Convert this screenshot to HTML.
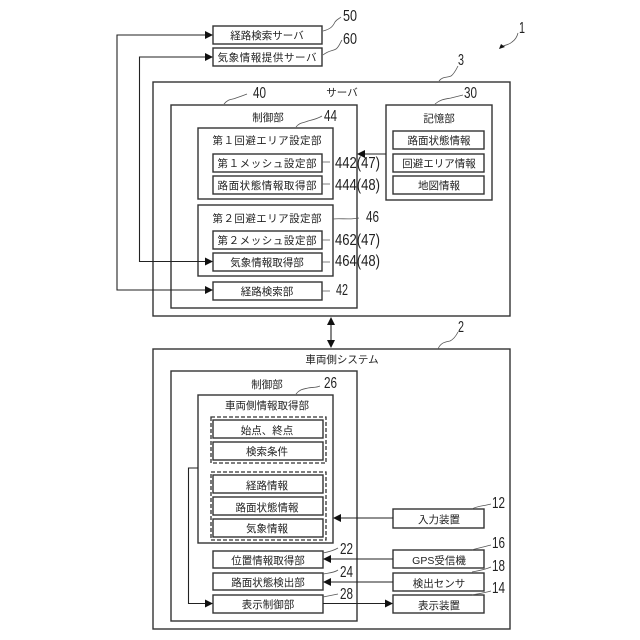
<!DOCTYPE html>
<html><head><meta charset="utf-8"><style>
html,body{margin:0;padding:0;background:#fff;width:640px;height:640px;overflow:hidden}
svg{display:block}
text{font-family:"Liberation Sans","Noto Sans CJK JP",sans-serif;fill:#222}
.j{font-size:10.5px;text-anchor:middle}
.n{font-size:16px;text-anchor:start}
.b{fill:none;stroke:#333;stroke-width:1.4}
.d{fill:none;stroke:#333;stroke-width:1.3;stroke-dasharray:4 2}
.l{fill:none;stroke:#222;stroke-width:1.1}
.c{fill:none;stroke:#555;stroke-width:.8}
.a{fill:#111}
</style></head><body>
<svg width="640" height="640" viewBox="0 0 640 640" xmlns="http://www.w3.org/2000/svg">
<!-- boxes -->
<rect class="b" x="213" y="26" width="109" height="18"/>
<rect class="b" x="213" y="48" width="109" height="18"/>
<rect class="b" x="153" y="82" width="357" height="234"/>
<rect class="b" x="171" y="105" width="186" height="203"/>
<rect class="b" x="198" y="128" width="135" height="71"/>
<rect class="b" x="213" y="154" width="109" height="18"/>
<rect class="b" x="213" y="176" width="109" height="18"/>
<rect class="b" x="198" y="205" width="135" height="71"/>
<rect class="b" x="213" y="231" width="109" height="18"/>
<rect class="b" x="213" y="253" width="109" height="18"/>
<rect class="b" x="213" y="282" width="109" height="18"/>
<rect class="b" x="386" y="105" width="106" height="95"/>
<rect class="b" x="393" y="131" width="91" height="18"/>
<rect class="b" x="393" y="154" width="91" height="18"/>
<rect class="b" x="393" y="176" width="91" height="18"/>
<rect class="b" x="153" y="349" width="357" height="280"/>
<rect class="b" x="171" y="371" width="186" height="250"/>
<rect class="b" x="198" y="395" width="135" height="148"/>
<rect class="d" x="211" y="417" width="115" height="46"/>
<rect class="b" x="213" y="420" width="110" height="18"/>
<rect class="b" x="213" y="442" width="110" height="18"/>
<rect class="d" x="211" y="472" width="115" height="68"/>
<rect class="b" x="213" y="475" width="110" height="18"/>
<rect class="b" x="213" y="497" width="110" height="18"/>
<rect class="b" x="213" y="519" width="110" height="18"/>
<rect class="b" x="213" y="551" width="110" height="17"/>
<rect class="b" x="213" y="573" width="110" height="17"/>
<rect class="b" x="213" y="595" width="110" height="18"/>
<rect class="b" x="393" y="509" width="91" height="19"/>
<rect class="b" x="393" y="550" width="91" height="18"/>
<rect class="b" x="393" y="573" width="91" height="18"/>
<rect class="b" x="393" y="595" width="91" height="18"/>
<!-- connectors -->
<path class="l" d="M205 35H117V290H205"/>
<path class="a" d="M213 35L205 31V39ZM213 290L205 286V294Z"/>
<path class="l" d="M205 57H139.500V261.500H205"/>
<path class="a" d="M213 57L205 53V61ZM213 261.500L205 257.500V265.500Z"/>
<path class="l" d="M386 154H365"/><path class="a" d="M357 154L365 150V158Z"/>
<path class="l" d="M331 324V341"/><path class="a" d="M331 317L327 325H335ZM331 348L327 340H335Z"/>
<path class="l" d="M393 518H341"/><path class="a" d="M333 518L341 514V522Z"/>
<path class="l" d="M393 559H331"/><path class="a" d="M323 559L331 555V563Z"/>
<path class="l" d="M393 582H331"/><path class="a" d="M323 582L331 578V586Z"/>
<path class="l" d="M323 603.500H385"/><path class="a" d="M393 603.500L385 599.500V607.500Z"/>
<path class="l" d="M198 468H188.500V603.500H205"/><path class="a" d="M213 603.500L205 599.500V607.500Z"/>
<!-- leader lines -->
<path class="c" d="M323 31C331 29 333 26 335 22C337 19 339 19 341 17"/>
<path class="c" d="M323 55C329 50 333 51 336 49C339 47 340 43 342 40"/>
<path class="c" d="M224 104C229 98 232 100 236 98C239 97 242 96 247 94"/>
<path class="c" d="M296 127C300 122 304 123 308 121C312 120 317 119 322 116"/>
<path class="c" d="M333 219C340 218 350 220 359 218"/>
<path class="c" d="M322 162H330M322 184H330M322 240H330M322 262H330M322 291H330"/>
<path class="c" d="M439 81C443 76 447 78 451 76C454 74 456 70 458 66"/>
<path class="c" d="M435 104C441 99 446 99 451 98C455 97 459 96 463 95"/>
<path class="c" d="M500 47C505 45 509 45 512 42C515 40 517 37 518 33"/>
<path class="a" d="M499 49L505 47L501 44Z"/>
<path class="c" d="M438 349C441 342 446 342 450 341C454 339 456 336 458 332"/>
<path class="c" d="M296 394C300 389 304 389 308 388C312 387 316 388 320 386"/>
<path class="c" d="M323 553C328 552 333 551 338 548"/>
<path class="c" d="M323 574C328 573 334 573 338 570"/>
<path class="c" d="M323 597C328 596 333 595 338 594"/>
<path class="c" d="M472 509C477 506 484 506 491 504"/>
<path class="c" d="M472 550C477 548 484 547 491 545"/>
<path class="c" d="M472 572C477 571 484 570 491 567"/>
<path class="c" d="M472 595C477 594 484 593 491 591"/>
<!-- box labels -->
<text class="j" x="267" y="39">経路検索サーバ</text>
<text class="j" x="267" y="61" textLength="99" lengthAdjust="spacing">気象情報提供サーバ</text>
<text class="j" x="342" y="96">サーバ</text>
<text class="j" x="268" y="121">制御部</text>
<text class="j" x="267" y="144" textLength="109" lengthAdjust="spacing">第１回避エリア設定部</text>
<text class="j" x="267" y="167" textLength="99" lengthAdjust="spacing">第１メッシュ設定部</text>
<text class="j" x="267" y="189" textLength="99" lengthAdjust="spacing">路面状態情報取得部</text>
<text class="j" x="267" y="222" textLength="109" lengthAdjust="spacing">第２回避エリア設定部</text>
<text class="j" x="267" y="244" textLength="99" lengthAdjust="spacing">第２メッシュ設定部</text>
<text class="j" x="267" y="266">気象情報取得部</text>
<text class="j" x="267" y="295">経路検索部</text>
<text class="j" x="439" y="122">記憶部</text>
<text class="j" x="439" y="144">路面状態情報</text>
<text class="j" x="439" y="167">回避エリア情報</text>
<text class="j" x="439" y="189">地図情報</text>
<text class="j" x="342" y="363">車両側システム</text>
<text class="j" x="267" y="388">制御部</text>
<text class="j" x="267" y="409">車両側情報取得部</text>
<text class="j" x="267" y="434">始点、終点</text>
<text class="j" x="267" y="455">検索条件</text>
<text class="j" x="267" y="489">経路情報</text>
<text class="j" x="267" y="511">路面状態情報</text>
<text class="j" x="267" y="532">気象情報</text>
<text class="j" x="268" y="564">位置情報取得部</text>
<text class="j" x="268" y="586">路面状態検出部</text>
<text class="j" x="268" y="608">表示制御部</text>
<text class="j" x="439" y="523">入力装置</text>
<text class="j" x="439" y="564">GPS受信機</text>
<text class="j" x="439" y="587">検出センサ</text>
<text class="j" x="439" y="609">表示装置</text>
<!-- reference numbers -->
<text class="n" x="343" y="21" textLength="14" lengthAdjust="spacingAndGlyphs">50</text>
<text class="n" x="343" y="44" textLength="14" lengthAdjust="spacingAndGlyphs">60</text>
<text class="n" x="253" y="98" textLength="13" lengthAdjust="spacingAndGlyphs">40</text>
<text class="n" x="324" y="121" textLength="13" lengthAdjust="spacingAndGlyphs">44</text>
<text class="n" x="335" y="168" textLength="45" lengthAdjust="spacingAndGlyphs">442(47)</text>
<text class="n" x="335" y="190" textLength="45" lengthAdjust="spacingAndGlyphs">444(48)</text>
<text class="n" x="366" y="222" textLength="13" lengthAdjust="spacingAndGlyphs">46</text>
<text class="n" x="335" y="245" textLength="45" lengthAdjust="spacingAndGlyphs">462(47)</text>
<text class="n" x="335" y="266" textLength="45" lengthAdjust="spacingAndGlyphs">464(48)</text>
<text class="n" x="336" y="295" textLength="12" lengthAdjust="spacingAndGlyphs">42</text>
<text class="n" x="519" y="33" textLength="6" lengthAdjust="spacingAndGlyphs">1</text>
<text class="n" x="458" y="65" textLength="6" lengthAdjust="spacingAndGlyphs">3</text>
<text class="n" x="464" y="98" textLength="13" lengthAdjust="spacingAndGlyphs">30</text>
<text class="n" x="458" y="332" textLength="6" lengthAdjust="spacingAndGlyphs">2</text>
<text class="n" x="324" y="388" textLength="13" lengthAdjust="spacingAndGlyphs">26</text>
<text class="n" x="340" y="554" textLength="13" lengthAdjust="spacingAndGlyphs">22</text>
<text class="n" x="340" y="577" textLength="13" lengthAdjust="spacingAndGlyphs">24</text>
<text class="n" x="340" y="599" textLength="13" lengthAdjust="spacingAndGlyphs">28</text>
<text class="n" x="492" y="508" textLength="13" lengthAdjust="spacingAndGlyphs">12</text>
<text class="n" x="492" y="548" textLength="13" lengthAdjust="spacingAndGlyphs">16</text>
<text class="n" x="492" y="571" textLength="13" lengthAdjust="spacingAndGlyphs">18</text>
<text class="n" x="492" y="593" textLength="13" lengthAdjust="spacingAndGlyphs">14</text>
</svg>
</body></html>
